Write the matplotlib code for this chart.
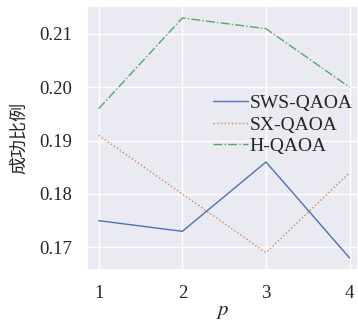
import numpy as np
import matplotlib
matplotlib.use('Agg')
import matplotlib.pyplot as plt
import seaborn as sns

p = [1, 2, 3, 4]
sws_qaoa = [0.175, 0.173, 0.186, 0.168]
sx_qaoa = [0.191, 0.180, 0.169, 0.184]
h_qaoa = [0.196, 0.213, 0.211, 0.200]

sns.set_theme(style='darkgrid')
plt.rcParams['font.family'] = ['Liberation Serif', 'Noto Sans CJK SC']
plt.rcParams['mathtext.fontset'] = 'stix'

fig = plt.figure(figsize=(3.58, 3.2), dpi=100)
ax = fig.add_axes([87/358, 50/320, 271/358, 264/320])

pal = sns.color_palette('deep')
ax.plot(p, sws_qaoa, '-', color=pal[0], lw=1.0, label='SWS-QAOA')
ax.plot(p, sx_qaoa, ':', color=pal[1], lw=1.0, label='SX-QAOA')
ax.plot(p, h_qaoa, '-.', color=pal[2], lw=1.0, label='H-QAOA')

ax.set_xlim(0.86, 4.1)
ax.set_xticks(p)
ax.set_yticks([0.17, 0.18, 0.19, 0.20, 0.21])
ax.tick_params(labelsize=13.5, pad=5)
ax.set_xlabel('$p$', fontsize=15, labelpad=0)
ax.set_ylabel('成功比例', fontsize=13, family=['Noto Sans CJK SC'], labelpad=8)

ax.legend(loc='center right', bbox_to_anchor=(1.03, 0.55), frameon=False,
          fontsize=14, handlelength=1.8, handletextpad=0.1,
          labelspacing=0.2, borderpad=0.2)

fig.savefig('out.png', dpi=100)
